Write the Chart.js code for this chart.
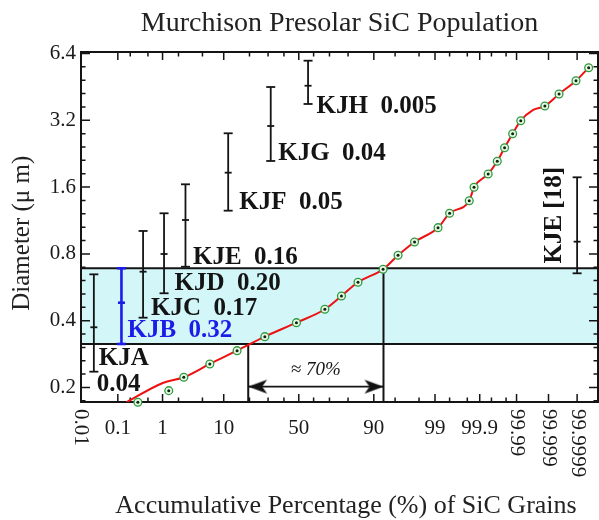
<!DOCTYPE html>
<html>
<head>
<meta charset="utf-8">
<script src="https://cdn.jsdelivr.net/npm/chart.js@4.4.1/dist/chart.umd.min.js"></script>
<style>
  html, body { margin: 0; padding: 0; background: #fff; }
  canvas { display: block; }
</style>
</head>
<body>
<canvas id="psd" width="599" height="520"></canvas>
<script>
// Grain size distribution (cumulative % vs diameter in um)
const grainPct  = [0.30, 1.32, 2.48, 6.43, 14.6, 28.1, 48.4, 67.2, 76.7, 84.4, 92.5, 95.5, 97.6,
                   99.13, 99.50, 99.82, 99.862, 99.939, 99.965, 99.978, 99.987, 99.9925,
                   99.99868, 99.99956, 99.99989, 99.999963];
const grainDiam = [0.1715, 0.1935, 0.2223, 0.2552, 0.2930, 0.3388, 0.3918, 0.4503, 0.5169, 0.5958,
                   0.6819, 0.7885, 0.9053, 1.050, 1.219, 1.389, 1.597, 1.833, 2.091, 2.408,
                   2.784, 3.187, 3.712, 4.204, 4.826, 5.524];

// red fitted curve
const fitPct  = [0.1625, 1.01, 2.48, 6.43, 14.6, 28.1, 48.4, 67.2, 76.7, 84.4, 92.5, 95.5, 97.6,
                 99.13, 99.50, 99.82, 99.862, 99.939, 99.965, 99.978, 99.987, 99.9925, 99.99687,
                 99.99868, 99.99956, 99.99989, 99.999963];
const fitDiam = [0.1715, 0.2096, 0.2223, 0.2552, 0.2930, 0.3388, 0.3918, 0.4503, 0.5169, 0.5958,
                 0.6819, 0.7885, 0.9053, 1.050, 1.219, 1.389, 1.597, 1.833, 2.091, 2.408,
                 2.784, 3.187, 3.562, 3.712, 4.204, 4.826, 5.524];

// Murchison separates (KJA..KJH): mean size and spread, mass fraction
const sepNames = ['KJA', 'KJB', 'KJC', 'KJD', 'KJE', 'KJF', 'KJG', 'KJH'];
const sepFrac  = ['0.04', '0.32', '0.17', '0.20', '0.16', '0.05', '0.04', '0.005'];
const sepPct   = [0.0233, 0.123, 0.392, 1.07, 2.65, 11.4, 31.6, 56.3];
const sepLow   = [0.2356, 0.314, 0.4126, 0.5316, 0.700, 1.2526, 2.098, 3.79];
const sepMid   = [0.3735, 0.482, 0.665, 0.799, 1.137, 1.858, 3.016, 4.58];
const sepHigh  = [0.647, 0.689, 1.0146, 1.219, 1.647, 2.796, 4.52, 5.94];

// KJE from ref. [18]
const refLabel = 'KJE [18]';
const refPct = 99.9999;
const refLow = 0.654, refMid = 0.908, refHigh = 1.771;

// ~70% window marked under the curve
const windowPct = [19.4, 92.6];
const windowArrowDiam = 0.2017;
const windowLabel = '\u2248 70%';

// axis ticks
const xTickPct    = [0.01, 0.1, 1, 10, 50, 90, 99, 99.9, 99.99, 99.999, 99.9999];
const xTickLabels = ['0.01', '0.1', '1', '10', '50', '90', '99', '99.9', '99.99', '99.999', '99.9999'];
const xTickUpright = [false, true, true, true, true, true, true, true, false, false, false];
const xMinorPct   = [0.2, 0.5, 2, 5, 20, 30, 40, 60, 70, 80, 95, 98, 99.5, 99.8, 99.95, 99.98];
const yTickValues = [0.2, 0.4, 0.8, 1.6, 3.2, 6.4];
const yTickLabels = ['0.2', '0.4', '0.8', '1.6', '3.2', '6.4'];

const Y_MIN = 0.172, Y_MAX = 6.5;
const X_MAX_Z = 5.11;

// where each separate's label sits, relative to the bottom of its bar (px)
const labelDx = [5, 6, 8, 10.5, 7.5, 11, 7.5, 8.5];
const labelDy = [-13.5, -13, -9.5, -10, -9.5, -8.5, -7, 2.5];

// inverse normal CDF (Acklam), input in percent -> normal score
function probit(pct) {
  const a = [-3.969683028665376e+01, 2.209460984245205e+02, -2.759285104469687e+02,
             1.383577518672690e+02, -3.066479806614716e+01, 2.506628277459239e+00];
  const b = [-5.447609879822406e+01, 1.615858368580409e+02, -1.556989798598866e+02,
             6.680131188771972e+01, -1.328068155288572e+01];
  const c = [-7.784894002430293e-03, -3.223964580411365e-01, -2.400758277161838e+00,
             -2.549732539343734e+00, 4.374664141464968e+00, 2.938163982698783e+00];
  const d = [7.784695709041462e-03, 3.224671290700398e-01, 2.445134137142996e+00,
             3.754408661907416e+00];
  const p = pct / 100, pu = (100 - pct) / 100, pLow = 0.02425;
  let q, r;
  if (p < pLow) {
    q = Math.sqrt(-2 * Math.log(p));
    return (((((c[0]*q + c[1])*q + c[2])*q + c[3])*q + c[4])*q + c[5]) /
           ((((d[0]*q + d[1])*q + d[2])*q + d[3])*q + 1);
  }
  if (pu < pLow) {
    q = Math.sqrt(-2 * Math.log(pu));
    return -(((((c[0]*q + c[1])*q + c[2])*q + c[3])*q + c[4])*q + c[5]) /
            ((((d[0]*q + d[1])*q + d[2])*q + d[3])*q + 1);
  }
  q = p - 0.5; r = q * q;
  return (((((a[0]*r + a[1])*r + a[2])*r + a[3])*r + a[4])*r + a[5]) * q /
         (((((b[0]*r + b[1])*r + b[2])*r + b[3])*r + b[4])*r + 1);
}

const X_MIN_Z = probit(xTickPct[0]);
const toPts = (pcts, vals) => pcts.map((p, i) => ({ x: probit(p), y: vals[i] }));

// filled arrow head, tip at the canvas centre, pointing right
function makeArrowHead() {
  const c = document.createElement('canvas');
  c.width = 44; c.height = 16;
  const g = c.getContext('2d');
  g.fillStyle = '#111';
  g.beginPath();
  g.moveTo(22, 8); g.lineTo(3, 1); g.lineTo(8, 8); g.lineTo(3, 15);
  g.closePath(); g.fill();
  return c;
}

const ink = '#141414';
const blue = '#1c1ce8';
const grains = toPts(grainPct, grainDiam);

const datasets = [];
// grain points: dark centre dot over a green ring
datasets.push({ data: grains, showLine: false, pointRadius: 1.5, pointBorderWidth: 0,
  pointBackgroundColor: '#082808', order: 0, clip: false });
datasets.push({ data: grains, showLine: false, pointRadius: 3.9, pointBorderWidth: 1.3,
  pointBorderColor: '#2f9a3e', pointBackgroundColor: '#eaf7e8', order: 1, clip: false });
datasets.push({ data: toPts(fitPct, fitDiam), borderColor: '#ee1111', borderWidth: 2,
  pointRadius: 0, cubicInterpolationMode: 'monotone', order: 2 });

// error bars of the separates
sepNames.forEach((name, i) => {
  const col = i === 1 ? blue : ink;
  const w = i === 1 ? 2.6 : 1.8;
  const px = probit(sepPct[i]);
  datasets.push({ data: [{ x: px, y: sepLow[i] }, { x: px, y: sepMid[i] }, { x: px, y: sepHigh[i] }],
    borderColor: col, borderWidth: w, pointStyle: 'line', pointRadius: [4.5, 3.5, 4.5],
    pointBorderWidth: w, pointBorderColor: col, order: 3 });
});
const refX = probit(refPct);
datasets.push({ data: [{ x: refX, y: refLow }, { x: refX, y: refMid }, { x: refX, y: refHigh }],
  borderColor: ink, borderWidth: 1.8, pointStyle: 'line', pointRadius: [4.5, 3.5, 4.5],
  pointBorderWidth: 1.8, pointBorderColor: ink, order: 3 });

// double arrow and the two vertical markers
const wx0 = probit(windowPct[0]), wx1 = probit(windowPct[1]);
datasets.push({ data: [{ x: wx0, y: windowArrowDiam }, { x: wx1, y: windowArrowDiam }],
  borderColor: ink, borderWidth: 1.8, pointStyle: makeArrowHead(), pointRotation: [180, 0],
  pointRadius: 8, order: 4 });
datasets.push({ data: [{ x: wx0, y: sepLow[1] }, { x: wx0, y: Y_MIN }],
  borderColor: ink, borderWidth: 2, pointRadius: 0, order: 5 });
datasets.push({ data: [{ x: wx1, y: sepHigh[1] }, { x: wx1, y: Y_MIN }],
  borderColor: ink, borderWidth: 2, pointRadius: 0, order: 5 });

// KJB size band (cyan)
datasets.push({ data: [{ x: X_MIN_Z, y: sepHigh[1] }, { x: X_MAX_Z, y: sepHigh[1] }],
  borderColor: ink, borderWidth: 2, pointRadius: 0, fill: '+1',
  backgroundColor: '#d3f6f9', order: 8 });
const bandIndex = datasets.length;
datasets.push({ data: [{ x: X_MIN_Z, y: sepLow[1] }, { x: X_MAX_Z, y: sepLow[1] }],
  borderColor: ink, borderWidth: 2, pointRadius: 0, order: 7 });

function drawFrame(chart) {
  const { ctx, chartArea: a, scales: { x, y } } = chart;
  ctx.save();
  ctx.strokeStyle = ink;
  ctx.lineWidth = 2;
  ctx.strokeRect(a.left, a.top, a.right - a.left, a.bottom - a.top);
  ctx.lineWidth = 1.5;
  ctx.beginPath();
  const xTick = (pct, len) => {
    const px = x.getPixelForValue(probit(pct));
    ctx.moveTo(px, a.bottom); ctx.lineTo(px, a.bottom - len);
    ctx.moveTo(px, a.top); ctx.lineTo(px, a.top + len);
  };
  xTickPct.forEach(p => xTick(p, 8));
  xMinorPct.forEach(p => xTick(p, 4.5));
  for (let k = -1; k <= 25; k++) {
    const v = yTickValues[0] * Math.pow(2, k / 5);
    if (v < Y_MIN || v > Y_MAX) continue;
    const py = y.getPixelForValue(v);
    const len = k % 5 === 0 ? 9 : 4.5;
    ctx.moveTo(a.left, py); ctx.lineTo(a.left + len, py);
    ctx.moveTo(a.right, py); ctx.lineTo(a.right - len, py);
  }
  ctx.stroke();
  ctx.restore();
}

const decor = {
  id: 'decor',
  afterDatasetDraw(chart, args) {
    if (args.index === bandIndex) drawFrame(chart);
  },
  afterDatasetsDraw(chart) {
    const { ctx, chartArea: a, scales: { x, y } } = chart;
    ctx.save();
    // x tick labels (some of them turned on their side)
    ctx.fillStyle = '#1a1a1a';
    ctx.font = '21px "Liberation Serif"';
    xTickPct.forEach((p, i) => {
      const px = x.getPixelForValue(probit(p));
      if (xTickUpright[i]) {
        ctx.textAlign = 'center'; ctx.textBaseline = 'alphabetic';
        ctx.fillText(xTickLabels[i], px, a.bottom + 31.5);
      } else {
        ctx.save();
        ctx.translate(px, a.bottom + 7);
        ctx.rotate(Math.PI / 2);
        ctx.textAlign = 'left'; ctx.textBaseline = 'middle';
        ctx.fillText(xTickLabels[i], 0, 0);
        ctx.restore();
      }
    });

    // separate labels
    ctx.font = 'bold 25px "Liberation Serif"';
    ctx.textAlign = 'left'; ctx.textBaseline = 'middle';
    sepNames.forEach((name, i) => {
      const px = x.getPixelForValue(probit(sepPct[i])) + labelDx[i];
      const py = y.getPixelForValue(sepLow[i]) + labelDy[i];
      ctx.fillStyle = i === 1 ? blue : ink;
      if (i === 0) {
        ctx.fillText(name, px, py);
        ctx.fillText(sepFrac[i], px - 2, py + 26);
      } else {
        ctx.fillText(name + '  ' + sepFrac[i], px, py);
      }
    });
    ctx.fillStyle = ink;
    ctx.save();
    ctx.translate(x.getPixelForValue(refX) - 23,
      (y.getPixelForValue(refLow) + y.getPixelForValue(refHigh)) / 2 - 10);
    ctx.rotate(-Math.PI / 2);
    ctx.textAlign = 'center';
    ctx.fillText(refLabel, 0, 0);
    ctx.restore();

    // window label
    ctx.font = 'italic 19px "Liberation Serif"';
    ctx.textAlign = 'center';
    ctx.fillText(windowLabel, (x.getPixelForValue(wx0) + x.getPixelForValue(wx1)) / 2,
      y.getPixelForValue(windowArrowDiam) - 17);
    ctx.restore();
  }
};

Chart.defaults.font.family = '"Liberation Serif", "Times New Roman", serif';

new Chart(document.getElementById('psd'), {
  type: 'line',
  data: { datasets },
  options: {
    responsive: false,
    animation: false,
    events: [],
    layout: { autoPadding: false, padding: { left: 0, right: 1, top: 0, bottom: 0 } },
    plugins: {
      legend: { display: false },
      tooltip: { enabled: false },
      title: {
        display: true,
        text: 'Murchison Presolar SiC Population',
        fullSize: false,
        color: '#222',
        font: { size: 28, weight: 'normal', lineHeight: 1 },
        padding: { top: 10, bottom: 14 }
      }
    },
    scales: {
      x: {
        type: 'linear',
        min: X_MIN_Z,
        max: X_MAX_Z,
        grid: { display: false, drawTicks: false },
        border: { display: false },
        ticks: { display: false },
        title: {
          display: true,
          text: '\u2002Accumulative Percentage (%) of SiC Grains',
          color: '#222',
          font: { size: 26, lineHeight: 1 },
          padding: { top: 0, bottom: 1 }
        },
        afterFit: s => { s.height = 118; }
      },
      y: {
        type: 'logarithmic',
        min: Y_MIN,
        max: Y_MAX,
        grid: { display: false, drawTicks: false },
        border: { display: false },
        afterBuildTicks: s => { s.ticks = yTickValues.map(v => ({ value: v })); },
        ticks: {
          padding: 5,
          color: '#1a1a1a',
          font: { size: 21 },
          callback: (v, i) => yTickLabels[i]
        },
        title: {
          display: true,
          text: 'Diameter (\u03bc m)\u2002',
          color: '#222',
          font: { size: 25, lineHeight: 1 },
          padding: { top: 10, bottom: 0 }
        },
        afterFit: s => { s.width = 81; }
      }
    }
  },
  plugins: [decor]
});
</script>
</body>
</html>
